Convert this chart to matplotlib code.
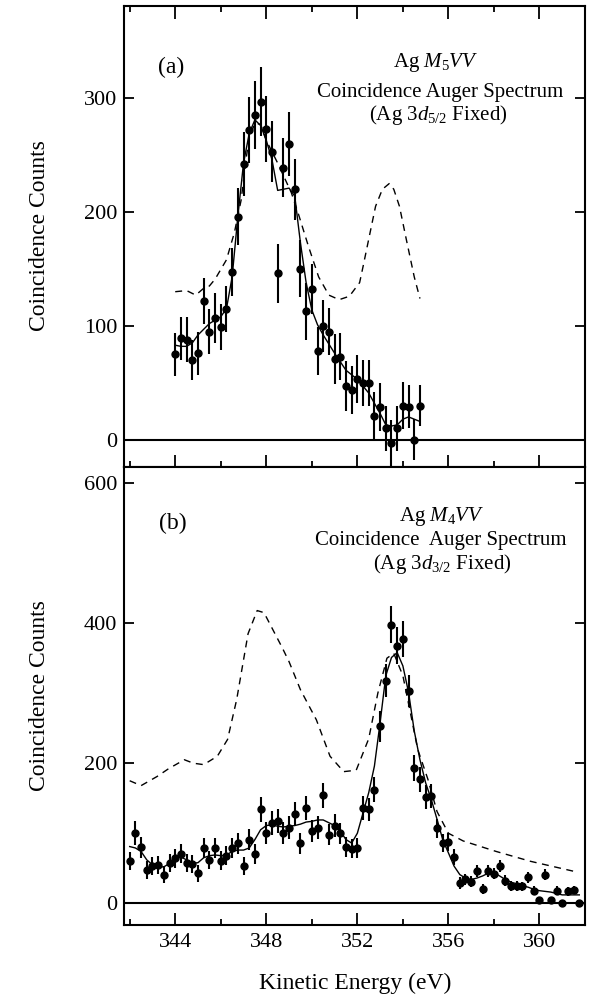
import numpy as np
import matplotlib
matplotlib.use('Agg')
import matplotlib.pyplot as plt

plt.rcParams['font.family'] = ['Liberation Serif', 'DejaVu Serif']
plt.rcParams['mathtext.fontset'] = 'custom'
plt.rcParams['mathtext.rm'] = 'Liberation Serif'
plt.rcParams['mathtext.it'] = 'Liberation Serif:italic'

# ---- panel (a): Ag M5VV, data points on a 0.25 eV grid
a_energy = np.arange(344.0, 354.76, 0.25)
a_counts = [75, 89, 88, 70, 76, 122, 95, 107, 99, 115,
            147, 196, 242, 272, 285, 297, 273, 253, 146, 239,
            260, 220, 150, 113, 132, 78, 100, 95, 71, 73,
            47, 44, 53, 50, 50, 21, 29, 10, -3, 10,
            30, 29, 0, 30]
a_err = [19, 19, 20, 18, 19, 20, 20, 22, 20, 20,
         21, 25, 28, 29, 30, 30, 29, 27, 26, 26,
         28, 27, 25, 25, 22, 21, 23, 21, 22, 21,
         22, 21, 21, 20, 20, 21, 21, 20, 20, 20,
         21, 19, 18, 18]

a_fit_x = [344.0, 344.25, 344.5, 344.75, 345.0, 345.5, 346.0, 346.25, 346.5, 346.75,
           347.0, 347.25, 347.5, 347.75, 348.0, 348.25, 348.5, 348.75, 349.0, 349.25,
           349.5, 349.75, 350.0, 350.25, 350.5, 351.0, 351.5, 352.0, 352.5, 353.0,
           353.25, 353.5, 353.75, 354.0, 354.25, 354.5, 354.75]
a_fit_y = [83, 82, 82, 85, 92, 102, 108, 115, 143, 196,
           243, 269, 281, 276, 263, 246, 219, 220, 221, 214,
           173, 138, 114, 101, 92, 76, 61, 53, 41, 23,
           13, 12, 13, 18, 20, 18, 16]

a_ref_x = [344.0, 344.5, 344.9, 345.25, 345.5, 345.75, 346.25, 346.6, 346.9, 347.1,
           347.25, 347.5, 347.75, 348.0, 348.5, 349.1, 349.4, 349.85, 350.3, 350.75,
           351.2, 351.65, 352.1, 352.25, 352.55, 352.8, 353.1, 353.4, 353.6, 353.85,
           354.15, 354.5, 354.75]
a_ref_y = [130, 131, 127, 133, 135, 141, 158, 182, 211, 245,
           265, 278, 277, 263, 243, 217, 199, 170, 143, 127,
           123, 126, 138, 152, 181, 205, 220, 225, 220, 205,
           176, 143, 124]

# ---- panel (b): Ag M4VV
b_energy = np.arange(342.0, 361.76, 0.25)
b_counts = [60, 100, 80, 47, 53, 55, 41, 58, 64, 71,
            58, 56, 43, 79, 62, 79, 61, 68, 79, 86,
            53, 91, 70, 134, 100, 115, 117, 100, 108, 127,
            86, 136, 103, 108, 154, 98, 111, 100, 80, 78,
            79, 136, 134, 162, 253, 318, 398, 368, 377, 303,
            193, 177, 152, 153, 107, 86, 88, 66, 29, 34,
            31, 46, 20, 46, 42, 53, 32, 25, 25, 24,
            37, 18, 5, 41, 4, 18, 1, 17, 19, 0]
b_err = [13, 17, 15, 13, 13, 13, 12, 13, 13, 14,
         13, 13, 12, 14, 13, 14, 13, 14, 14, 15,
         13, 15, 14, 18, 16, 17, 17, 16, 16, 17,
         15, 17, 16, 16, 18, 15, 16, 15, 14, 14,
         14, 17, 17, 18, 22, 24, 27, 26, 26, 23,
         19, 18, 17, 17, 14, 13, 13, 11, 8, 8,
         8, 9, 7, 9, 8, 9, 8, 7, 7, 7,
         8, 6, 4, 8, 4, 6, 3, 6, 6, 3]

b_fit_x = [342.0, 342.25, 342.5, 342.75, 343.0, 343.25, 343.5, 343.75, 344.0, 344.25,
           344.5, 344.75, 345.0, 345.25, 345.5, 345.75, 346.0, 346.25, 346.5, 346.75,
           347.0, 347.25, 347.5, 347.75, 348.0, 348.25, 348.5, 348.75, 349.0, 349.25,
           349.5, 349.75, 350.0, 350.25, 350.5, 350.75, 351.0, 351.25, 351.5, 351.75,
           352.0, 352.25, 352.5, 352.75, 353.0, 353.25, 353.5, 353.75, 354.0, 354.25,
           354.5, 354.75, 355.0, 355.25, 355.5, 355.75, 356.0, 356.25, 356.5, 356.75,
           357.0, 357.25, 357.5, 357.75, 358.0, 358.25, 358.5, 358.75, 359.0, 359.25,
           359.5, 359.75, 360.0, 360.25, 360.5, 360.75, 361.0, 361.25, 361.5, 361.75]
b_fit_y = [81, 79, 74, 62, 55, 52, 52, 57, 64, 66,
           62, 57, 58, 65, 68, 69, 68, 69, 74, 76,
           76, 79, 91, 105, 111, 112, 110, 109, 110, 111,
           113, 116, 117, 119, 119, 115, 111, 103, 91, 86,
           100, 129, 158, 196, 258, 325, 351, 358, 339, 301,
           246, 205, 172, 148, 120, 91, 72, 53, 41, 36,
           34, 36, 39, 43, 44, 39, 34, 30, 28, 25,
           23, 20, 18, 17, 16, 14, 12, 12, 12, 12]

b_ref_x = [342.0, 342.5, 343.2, 343.7, 344.4, 344.8, 345.25, 345.85, 346.3, 346.7,
           347.2, 347.6, 347.9, 348.3, 348.7, 349.0, 349.5, 350.2, 350.8, 351.4,
           351.95, 352.5, 352.9, 353.3, 353.6, 354.0, 354.3, 354.65, 355.1, 355.5,
           356.0, 356.65, 358.1, 359.6, 361.6]
b_ref_y = [175, 168, 181, 192, 205, 200, 198, 210, 234, 291,
           385, 418, 415, 390, 365, 345, 305, 262, 210, 188,
           190, 235, 300, 350, 357, 325, 277, 220, 177, 131,
           100, 89, 74, 60, 45]

W, H = 595, 1002
fig = plt.figure(figsize=(W / 100, H / 100), dpi=100)
left, right = 124 / W, 585 / W
ax1 = fig.add_axes([left, 1 - 467 / H, right - left, (467 - 6) / H])
ax2 = fig.add_axes([left, 1 - 925 / H, right - left, (925 - 467) / H])

def style_axis(ax, yticks, top_ticks):
    ax.set_xlim(341.75, 362.0)
    ax.set_xticks([344, 348, 352, 356, 360])
    ax.set_xticks(np.arange(342, 362.1, 2), minor=True)
    ax.set_yticks(yticks)
    ax.tick_params(which='both', direction='in', top=top_ticks, right=True,
                   width=1.3, labelsize=16, pad=6)
    ax.tick_params(which='major', length=9)
    ax.tick_params(which='minor', length=4)
    ax.tick_params(axis='y', which='major', length=7, pad=5)
    for s in ax.spines.values():
        s.set_linewidth(1.5)
    ax.axhline(0, color='black', lw=1.5, zorder=1)

# panel (a)
ax1.plot(a_ref_x, a_ref_y, color='black', lw=1.0, ls=(0, (5, 4)))
ax1.plot(a_fit_x, a_fit_y, color='black', lw=1.0)
ax1.errorbar(a_energy, a_counts, yerr=a_err, fmt='o', color='black',
             ms=5, elinewidth=1.5, capsize=0)
style_axis(ax1, [0, 100, 200, 300], True)
ax1.set_ylim(-24, 381)
ax1.tick_params(labelbottom=False)

# panel (b)
ax2.plot(b_ref_x, b_ref_y, color='black', lw=1.0, ls=(0, (5, 4)))
ax2.plot(b_fit_x, b_fit_y, color='black', lw=1.0)
ax2.errorbar(b_energy, b_counts, yerr=b_err, fmt='o', color='black',
             ms=5, elinewidth=1.5, capsize=0)
style_axis(ax2, [0, 200, 400, 600], False)
ax2.set_ylim(-31, 623)

def ftext(x, y, s, **kw):
    fig.text(x / W, 1 - y / H, s, ha='center', va='center', **kw)

ftext(171, 67, '(a)', fontsize=17)
ftext(436, 63, r'Ag $M_5VV$', fontsize=15)
ftext(440, 92, 'Coincidence Auger Spectrum', fontsize=15)
ftext(438, 115, r'(Ag 3$d_{5/2}$ Fixed)', fontsize=15)

ftext(173, 523, '(b)', fontsize=17)
ftext(442, 517, r'Ag $M_4VV$', fontsize=15)
ftext(441, 540, 'Coincidence  Auger Spectrum', fontsize=15)
ftext(442, 564, r'(Ag 3$d_{3/2}$ Fixed)', fontsize=15)

ftext(40, 236, 'Coincidence Counts', fontsize=17, rotation=90)
ftext(40, 696, 'Coincidence Counts', fontsize=17, rotation=90)
ftext(355, 983, 'Kinetic Energy (eV)', fontsize=17)

fig.savefig('out.png', dpi=100, facecolor='white')
